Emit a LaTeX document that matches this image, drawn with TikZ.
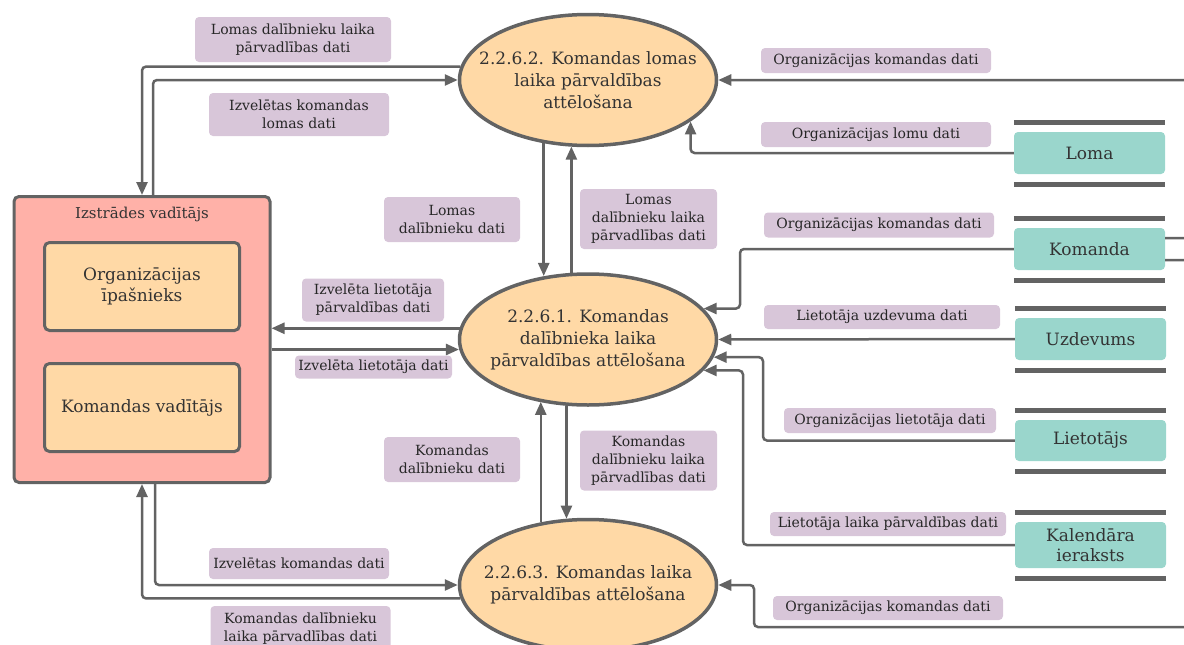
\documentclass[tikz,border=0pt]{standalone}
\usepackage{fontspec}
\setmainfont{DejaVu Serif}
\usetikzlibrary{arrows.meta,shapes.geometric,calc}

\definecolor{linegray}{RGB}{99,99,99}
\definecolor{peach}{RGB}{255,217,166}
\definecolor{salmon}{RGB}{255,177,168}
\definecolor{storeteal}{RGB}{154,214,204}
\definecolor{lav}{RGB}{216,198,217}
\definecolor{textdark}{RGB}{51,51,51}

\newcommand\storelines[1]{%
  \draw[storeline] ([yshift=9pt]#1.north west) -- ([yshift=9pt]#1.north east);
  \draw[storeline] ([yshift=-10pt]#1.south west) -- ([yshift=-10pt]#1.south east);}

\begin{document}
\begin{tikzpicture}[x=1pt,y=-1pt,
  proc/.style={ellipse, draw=linegray, line width=3.5pt, fill=peach,
    minimum width=257pt, minimum height=131pt, inner sep=0pt},
  proctext/.style={align=center, inner sep=0pt, text=textdark,
    font=\fontsize{17}{22}\selectfont},
  lbl/.style={fill=lav, rounded corners=4pt, align=center, inner sep=0pt,
    text=black!85, font=\fontsize{14}{18}\selectfont},
  store/.style={fill=storeteal, rounded corners=4pt, minimum width=151pt,
    minimum height=42pt, align=center, inner sep=0pt, text=textdark,
    font=\fontsize{17}{20}\selectfont},
  storeline/.style={draw=linegray, line width=5pt},
  entbox/.style={draw=linegray, line width=3pt, rounded corners=5pt},
  flow/.style={draw=linegray, line width=2.5pt, rounded corners=4pt},
  arr/.style={flow, -{Triangle[length=13pt,width=11pt]}}]

\useasboundingbox (0,0) rectangle (1184,645);
\clip (0,0) rectangle (1184,645);

% external entity
\node[entbox, fill=salmon, minimum width=256pt, minimum height=286pt] (dev) at (142,339.5) {};
\node[text=textdark, font=\fontsize{15}{18}\selectfont] (devtitle) at (142,214) {Izstrādes vadītājs};
\node[entbox, fill=peach, minimum width=195pt, minimum height=88pt, align=center,
      text=textdark, font=\fontsize{17}{21}\selectfont] (owner) at (142,286.5) {Organizācijas\\īpašnieks};
\node[entbox, fill=peach, minimum width=195pt, minimum height=88pt, align=center,
      text=textdark, font=\fontsize{17}{21}\selectfont] (lead) at (142,407.5) {Komandas vadītājs};

% processes
\node[proc, label={[proctext]center:{2.2.6.2. Komandas lomas\\laika pārvaldības\\attēlošana}}] (E2) at (588,80) {};
\node[proc, label={[proctext]center:{2.2.6.1. Komandas\\dalībnieka laika\\pārvaldības attēlošana}}] (E1) at (588,339.5) {};
\node[proc, label={[proctext]center:{2.2.6.3. Komandas laika\\pārvaldības attēlošana}}] (E3) at (588,585) {};

% data stores
\node[store] (loma) at (1089.5,153) {Loma};
\node[store] (kom) at (1089.5,249) {Komanda};
\node[store] (uzd) at (1090.5,339) {Uzdevums};
\node[store, minimum height=41pt] (liet) at (1090.5,440.5) {Lietotājs};
\node[store, minimum height=46pt] (kal) at (1090.5,545) {Kalendāra\\ieraksts};
\storelines{loma}
\storelines{kom}
\storelines{uzd}
\storelines{liet}
\storelines{kal}

% bend points
\coordinate (kbend) at (740,0);
\coordinate (lbend) at (763,0);
\coordinate (cbend) at (743,0);
\coordinate (obend) at (754,627);

% flows around 2.2.6.2
\draw[arr] (E2.174.6) -| (dev.north);
\draw[arr] ([xshift=11pt]dev.north) |- (E2.180);
\draw[arr] ([yshift=11pt]kom.east) -- ++(30,0) |- (E2.0);
\draw[arr] (loma.west) -| (E2.-22.3);
\draw[arr] (E2.235.8) -- (E2.235.8 |- E1.124.2);
\draw[arr] (E1.104.7) -- (E1.104.7 |- E2.255.3);

% flows around 2.2.6.1
\draw[arr] (E1.175.5) -- (E1.175.5 -| dev.east);
\draw[arr] ([yshift=-10pt]dev.east) -- ([yshift=-10pt]dev.east -| E1.184.5);
\draw[arr] (kom.west) -- (kom.west -| kbend) |- (E1.15.3);
\draw[arr] (uzd.west) -- (E1.0);
\draw[arr] (liet.west) -- (liet.west -| lbend) |- (E1.-8.3);
\draw[arr] (kal.west) -- (kal.west -| cbend) |- (E1.-15.9);
\draw[arr] (E3.127.6) -- (E3.127.6 |- E1.232.4);
\draw[arr] (E1.252) -- (E1.252 |- E3.108);

% flows around 2.2.6.3
\draw[arr] ([xshift=13pt]dev.south) |- (E3.180);
\draw[arr] (E3.186.4) -| (dev.south);
\draw[arr] ([yshift=-11pt]kom.east) -- ++(40,0) |- (obend) |- (E3.0);

% flow labels
\node[lbl, minimum width=196pt, minimum height=45pt] (l1) at (293,39.5) {Lomas dalībnieku laika\\pārvadlības dati};
\node[lbl, minimum width=180pt, minimum height=43pt] (l2) at (299,114.5) {Izvelētas komandas\\lomas dati};
\node[lbl, minimum width=230pt, minimum height=25pt] (l3) at (876,60.5) {Organizācijas komandas dati};
\node[lbl, minimum width=230pt, minimum height=25pt] (l4) at (876,134.5) {Organizācijas lomu dati};
\node[lbl, minimum width=136pt, minimum height=45pt] (l5) at (452,219.5) {Lomas\\dalībnieku dati};
\node[lbl, minimum width=137pt, minimum height=60pt] (l6) at (648.5,219) {Lomas\\dalībnieku laika\\pārvadlības dati};
\node[lbl, minimum width=230pt, minimum height=25pt] (l7) at (879,225) {Organizācijas komandas dati};
\node[lbl, minimum width=142pt, minimum height=43pt] (l8) at (373,300) {Izvelēta lietotāja\\pārvaldības dati};
\node[lbl, minimum width=157pt, minimum height=23pt] (l9) at (373.5,367) {Izvelēta lietotāja dati};
\node[lbl, minimum width=236pt, minimum height=24pt] (l10) at (882,317) {Lietotāja uzdevuma dati};
\node[lbl, minimum width=212pt, minimum height=25pt] (l11) at (890,420.5) {Organizācijas lietotāja dati};
\node[lbl, minimum width=136pt, minimum height=45pt] (l12) at (452,459.5) {Komandas\\dalībnieku dati};
\node[lbl, minimum width=137pt, minimum height=60pt] (l13) at (648.5,460.5) {Komandas\\dalībnieku laika\\pārvadlības dati};
\node[lbl, minimum width=236pt, minimum height=24pt] (l14) at (888,524) {Lietotāja laika pārvaldības dati};
\node[lbl, minimum width=180pt, minimum height=31pt] (l15) at (299,563.5) {Izvelētas komandas dati};
\node[lbl, minimum width=230pt, minimum height=24pt] (l16) at (888,608) {Organizācijas komandas dati};
\node[lbl, minimum width=180pt, minimum height=45pt] (l17) at (300.5,628.5) {Komandas dalībnieku\\laika pārvadlības dati};

\end{tikzpicture}
\end{document}
